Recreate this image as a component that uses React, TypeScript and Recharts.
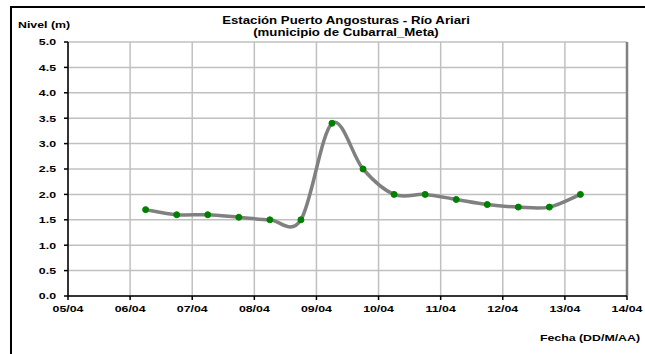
import { CartesianGrid, Line, LineChart, ReferenceLine, XAxis, YAxis } from "recharts";

// lecturas cada 12 h (dia/mes hora)
const fechas = [
    "06/04 06", "06/04 18", "07/04 06", "07/04 18", "08/04 06",
    "08/04 18", "09/04 06", "09/04 18", "10/04 06", "10/04 18",
    "11/04 06", "11/04 18", "12/04 06", "12/04 18", "13/04 06",
];
const niveles = [1.7, 1.6, 1.6, 1.55, 1.5, 1.5, 3.4, 2.5, 2.0, 2.0, 1.9, 1.8, 1.75, 1.75, 2.0];
const diasEje = ["05/04", "06/04", "07/04", "08/04", "09/04", "10/04", "11/04", "12/04", "13/04", "14/04"];
const nivelTicks = [0, 0.5, 1, 1.5, 2, 2.5, 3, 3.5, 4, 4.5, 5];

const DIA_INICIO = 5;

const data = fechas.map((f, i) => {
    const [dm, h] = f.split(" ");
    const dia = parseInt(dm.split("/")[0], 10);
    return { t: dia - DIA_INICIO + parseInt(h, 10) / 24, nivel: niveles[i] };
});

// suavizado tipo Excel (Catmull-Rom)
function suave(context: any) {
    let pts: number[][] = [];
    return {
        areaStart() {},
        areaEnd() {},
        lineStart() {
            pts = [];
        },
        lineEnd() {
            if (!pts.length) return;
            context.moveTo(pts[0][0], pts[0][1]);
            for (let i = 0; i < pts.length - 1; i++) {
                const p0 = pts[i - 1] || pts[i];
                const p1 = pts[i];
                const p2 = pts[i + 1];
                const p3 = pts[i + 2] || pts[i + 1];
                context.bezierCurveTo(
                    p1[0] + (p2[0] - p0[0]) / 6,
                    p1[1] + (p2[1] - p0[1]) / 6,
                    p2[0] - (p3[0] - p1[0]) / 6,
                    p2[1] - (p3[1] - p1[1]) / 6,
                    p2[0],
                    p2[1]
                );
            }
        },
        point(x: number, y: number) {
            pts.push([+x, +y]);
        },
    };
}

const font = "'Liberation Sans', Arial, sans-serif";
// el texto del original sale ensanchado
const ANCHO = 1.3;

const XTick = ({ x, y, payload }: any) => (
    <g transform={`translate(${x},${y + 10})`}>
        <text transform={`scale(${ANCHO},1)`} textAnchor="middle" fontSize={9.5} fontWeight={700} fontFamily={font} fill="#000">
            {diasEje[payload.value]}
        </text>
    </g>
);

const YTick = ({ x, y, payload }: any) => (
    <g transform={`translate(${x - 6},${y + 3.4})`}>
        <text transform={`scale(${ANCHO},1)`} textAnchor="end" fontSize={9.5} fontWeight={700} fontFamily={font} fill="#000">
            {payload.value.toFixed(1)}
        </text>
    </g>
);

const texto = { fontFamily: font, fontWeight: 700, fontSize: 9.5, lineHeight: "11px", whiteSpace: "nowrap" as const };

export default function App() {
    return (
        <div style={{ position: "absolute", left: 0, top: 0, width: 645, height: 354, overflow: "hidden", background: "#fff" }}>
            <div style={{ position: "absolute", left: 10, top: 6, width: 700, height: 400, border: "2px solid #000" }} />
            <div
                style={{
                    ...texto,
                    position: "absolute",
                    left: 346,
                    top: 15,
                    fontSize: 10,
                    lineHeight: "12px",
                    textAlign: "center",
                    transform: "translateX(-50%) scaleX(1.32)",
                }}
            >
                Estación Puerto Angosturas - Río Ariari
                <br />
                (municipio de Cubarral_Meta)
            </div>
            <div style={{ ...texto, position: "absolute", left: 18, top: 19, transform: `scaleX(${ANCHO})`, transformOrigin: "left" }}>Nivel (m)</div>
            <div style={{ ...texto, position: "absolute", right: 5, top: 332, transform: `scaleX(${ANCHO})`, transformOrigin: "right" }}>Fecha (DD/M/AA)</div>
            <LineChart width={645} height={354} data={data} margin={{ top: 42, right: 18, bottom: 0, left: 0 }} style={{ position: "absolute", left: 0, top: 0 }}>
                <CartesianGrid stroke="#c0c0c0" strokeWidth={1.5} />
                <XAxis
                    dataKey="t"
                    type="number"
                    domain={[0, 9]}
                    ticks={diasEje.map((_, i) => i)}
                    interval={0}
                    stroke="#000"
                    strokeWidth={1.5}
                    tickSize={4}
                    tick={<XTick />}
                    height={58}
                />
                <YAxis
                    domain={[0, 5]}
                    ticks={nivelTicks}
                    interval={0}
                    stroke="#000"
                    strokeWidth={1.5}
                    tickSize={4}
                    tick={<YTick />}
                    width={68}
                />
                <ReferenceLine x={9} stroke="#808080" strokeWidth={2.5} />
                <Line
                    dataKey="nivel"
                    type={suave as any}
                    stroke="#808080"
                    strokeWidth={3.5}
                    dot={{ r: 3, fill: "#008000", stroke: "#008000", strokeWidth: 1 }}
                    isAnimationActive={false}
                />
            </LineChart>
        </div>
    );
}
